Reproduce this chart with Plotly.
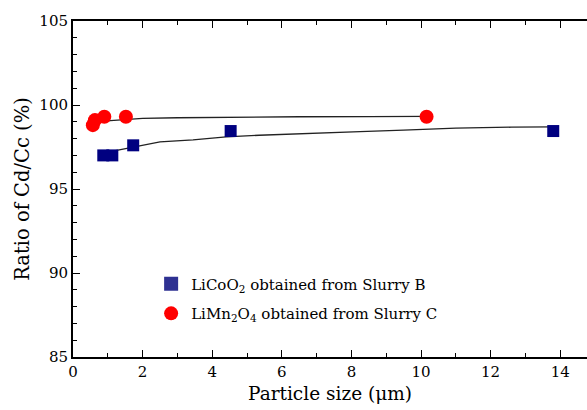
import plotly.graph_objects as go

# Data
licoo2_x = [0.87, 1.13, 1.73, 4.53, 13.8]
licoo2_y = [97.0, 97.0, 97.6, 98.45, 98.45]
limn_x = [0.57, 0.63, 0.90, 1.52, 10.16]
limn_y = [98.8, 99.1, 99.3, 99.3, 99.3]

fit_b_x = [1.0, 1.3, 1.9, 2.5, 3.45, 4.4, 5.35, 6.3, 7.25, 8.25, 9.5, 11.0, 12.6, 13.8]
fit_b_y = [97.2, 97.32, 97.57, 97.8, 97.92, 98.1, 98.2, 98.28, 98.35, 98.42, 98.5, 98.62, 98.68, 98.7]
fit_c_x = [0.97, 1.5, 2.0, 3.0, 4.5, 6.5, 8.5, 10.16]
fit_c_y = [99.06, 99.13, 99.2, 99.24, 99.28, 99.3, 99.31, 99.32]

legend_names = ["LiCoO<sub>2</sub> obtained from Slurry B",
                "LiMn<sub>2</sub>O<sub>4</sub> obtained from Slurry C"]

serif = "DejaVu Serif"

fig = go.Figure()
for fx, fy in ((fit_b_x, fit_b_y), (fit_c_x, fit_c_y)):
    fig.add_trace(go.Scatter(x=fx, y=fy, mode="lines",
                             line=dict(color="#222222", width=1.3),
                             showlegend=False, hoverinfo="skip"))
fig.add_trace(go.Scatter(x=licoo2_x, y=licoo2_y, mode="markers", showlegend=False,
                         marker=dict(symbol="square", size=12, color="#000080",
                                     line=dict(width=0))))
fig.add_trace(go.Scatter(x=limn_x, y=limn_y, mode="markers", showlegend=False,
                         marker=dict(symbol="circle", size=14, color="#ff0000",
                                     line=dict(width=0))))
# legend entries
fig.add_trace(go.Scatter(x=[None], y=[None], mode="markers", name=legend_names[0],
                         legendgroup="a",
                         marker=dict(symbol="square", size=14, color="#2e3192",
                                     line=dict(width=0))))
fig.add_trace(go.Scatter(x=[None], y=[None], mode="markers", name=legend_names[1],
                         legendgroup="b",
                         marker=dict(symbol="circle", size=14, color="#ff0000",
                                     line=dict(width=0))))

axis_common = dict(
    showgrid=False, zeroline=False, showline=True, linecolor="black", linewidth=2,
    ticks="inside", ticklen=7, tickwidth=1.2, tickcolor="black",
    tickfont=dict(family=serif, size=15, color="black"),
)

fig.update_layout(
    width=587, height=410,
    margin=dict(l=73, r=0, t=21, b=53),
    paper_bgcolor="white", plot_bgcolor="white",
    font=dict(family=serif, color="black"),
    xaxis=dict(range=[0, 14.77], tick0=0, dtick=2, mirror="ticks",
               minor=dict(dtick=1, ticks="inside", ticklen=4, tickwidth=1, tickcolor="black"),
               title=dict(text="Particle size (μm)", font=dict(family=serif, size=18.5, color="black"),
                          standoff=7),
               **axis_common),
    yaxis=dict(range=[85, 105], tick0=85, dtick=5, mirror=False,
               minor=dict(dtick=1, ticks="inside", ticklen=4, tickwidth=1, tickcolor="black"),
               title=dict(text="Ratio of Cd/Cc (%)", font=dict(family=serif, size=19.5, color="black"),
                          standoff=5),
               **axis_common),
    legend=dict(x=0.152, y=0.266, xanchor="left", yanchor="top",
                font=dict(family=serif, size=15, color="black"),
                bgcolor="rgba(0,0,0,0)", itemsizing="trace",
                traceorder="grouped", tracegroupgap=7),
)

fig.write_html("out.html")
